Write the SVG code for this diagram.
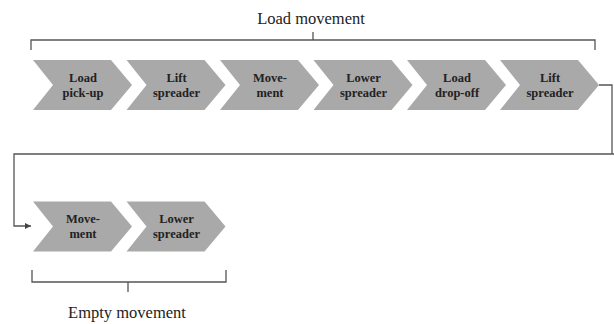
<svg xmlns="http://www.w3.org/2000/svg" width="614" height="324" viewBox="0 0 614 324">
<style>
.chev{fill:#a9a9a9;}
.lbl{font-family:"Liberation Serif",serif;font-weight:bold;font-size:12.5px;fill:#222;text-anchor:middle;}
.ttl{font-family:"Liberation Serif",serif;font-size:16.5px;fill:#222;text-anchor:middle;}
.ln{fill:none;stroke:#555;stroke-width:1.3;}
</style>
<defs>
<polygon id="cv" class="chev" points="0,0 78,0 99,25 78,50 0,50 20,25"/>
<marker id="ah" markerWidth="8" markerHeight="8" refX="6" refY="3" orient="auto" markerUnits="userSpaceOnUse"><path d="M0,0 L6,3 L0,6 Z" fill="#444"/></marker>
</defs>
<rect width="614" height="324" fill="#fff"/>
<g id="braces">
<path class="ln" d="M31,50 V40 H595 V50 M313,40 V32"/>
<text class="ttl" x="311" y="24">Load movement</text>
<path class="ln" d="M32,270 V282 H226 V270 M128,282 V292"/>
<text class="ttl" x="127" y="318">Empty movement</text>
</g>
<g id="n1"><use href="#cv" x="33" y="60"/><text class="lbl" x="83" y="82">Load</text><text class="lbl" x="83" y="97">pick-up</text></g>
<g id="n2"><use href="#cv" x="126.5" y="60"/><text class="lbl" x="176.5" y="82">Lift</text><text class="lbl" x="176.5" y="97">spreader</text></g>
<g id="n3"><use href="#cv" x="220" y="60"/><text class="lbl" x="270" y="82">Move-</text><text class="lbl" x="270" y="97">ment</text></g>
<g id="n4"><use href="#cv" x="313.5" y="60"/><text class="lbl" x="363.5" y="82">Lower</text><text class="lbl" x="363.5" y="97">spreader</text></g>
<g id="n5"><use href="#cv" x="407" y="60"/><text class="lbl" x="457" y="82">Load</text><text class="lbl" x="457" y="97">drop-off</text></g>
<g id="n6"><use href="#cv" x="500" y="60"/><text class="lbl" x="550" y="82">Lift</text><text class="lbl" x="550" y="97">spreader</text></g>
<g id="n7"><use href="#cv" x="33" y="201.5"/><text class="lbl" x="83" y="223">Move-</text><text class="lbl" x="83" y="238">ment</text></g>
<g id="n8"><use href="#cv" x="126.5" y="201.5"/><text class="lbl" x="176.5" y="223">Lower</text><text class="lbl" x="176.5" y="238">spreader</text></g>
<g id="connectors">
<path class="ln" d="M599,85 H612 V154"/>
<path class="ln" d="M614,154 H14 V226 H31" stroke-width="1.6" marker-end="url(#ah)"/>
</g>
</svg>
